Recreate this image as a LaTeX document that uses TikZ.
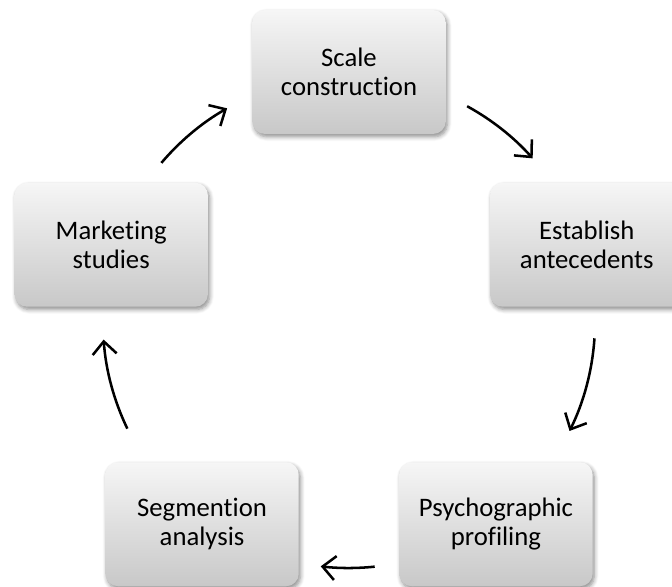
\documentclass[tikz,border=0pt]{standalone}
\usepackage{fontspec}
\setmainfont{Carlito}[Ligatures=NoCommon]
\usepackage{tikz}
\usetikzlibrary{arrows.meta,shadows.blur}
\definecolor{boxTop}{HTML}{F6F6F6}
\definecolor{boxBottom}{HTML}{C8C8C8}
\definecolor{arrInk}{HTML}{000000}

\begin{document}
\begin{tikzpicture}[
  font=\fontsize{19}{20.6}\selectfont,
  stage/.style={rounded corners=9pt,minimum width=4.8cm,minimum height=3.1cm,
                text width=4.6cm,align=center,top color=boxTop,bottom color=boxBottom,
                blur shadow={shadow blur steps=6,shadow xshift=1.2pt,shadow yshift=-2pt,
                             shadow blur radius=3pt,shadow opacity=45}},
  arr/.style={-{Straight Barb[length=3.2mm,width=6mm,line width=1.8pt]},arrInk,line width=1.8pt}
]
\useasboundingbox (-8.725,-6.625) rectangle (8.075,8.05);

% ---- Stages round the cycle ----
\node[stage] (scale)   at (90:6.25)   {Scale\\construction};
\node[stage] (antec)   at (18:6.25)   {Establish\\antecedents};
\node[stage] (psycho)  at (-54:6.25)  {Psychographic\\profiling};
\node[stage] (segment) at (-126:6.25) {Segmention\\analysis};
\node[stage] (market)  at (162:6.25)  {Marketing\\studies};

% ---- Arc ends ----
\coordinate (a1) at (139.7:6.15);
\coordinate (a2) at (61.3:6.15);
\coordinate (a3) at (-3.8:6.15);
\coordinate (a4) at (-84:6.15);
\coordinate (a5) at (205.7:6.15);

% ---- Flow arrows on the circle ----
\draw[arr] (a1) arc[start angle=139.7,end angle=119.7,radius=6.15];
\draw[arr] (a2) arc[start angle=61.3,end angle=41.7,radius=6.15];
\draw[arr] (a3) arc[start angle=-3.8,end angle=-26.3,radius=6.15];
\draw[arr] (a4) arc[start angle=-84,end angle=-96.6,radius=6.15];
\draw[arr] (a5) arc[start angle=205.7,end angle=184.1,radius=6.15];
\end{tikzpicture}
\end{document}
